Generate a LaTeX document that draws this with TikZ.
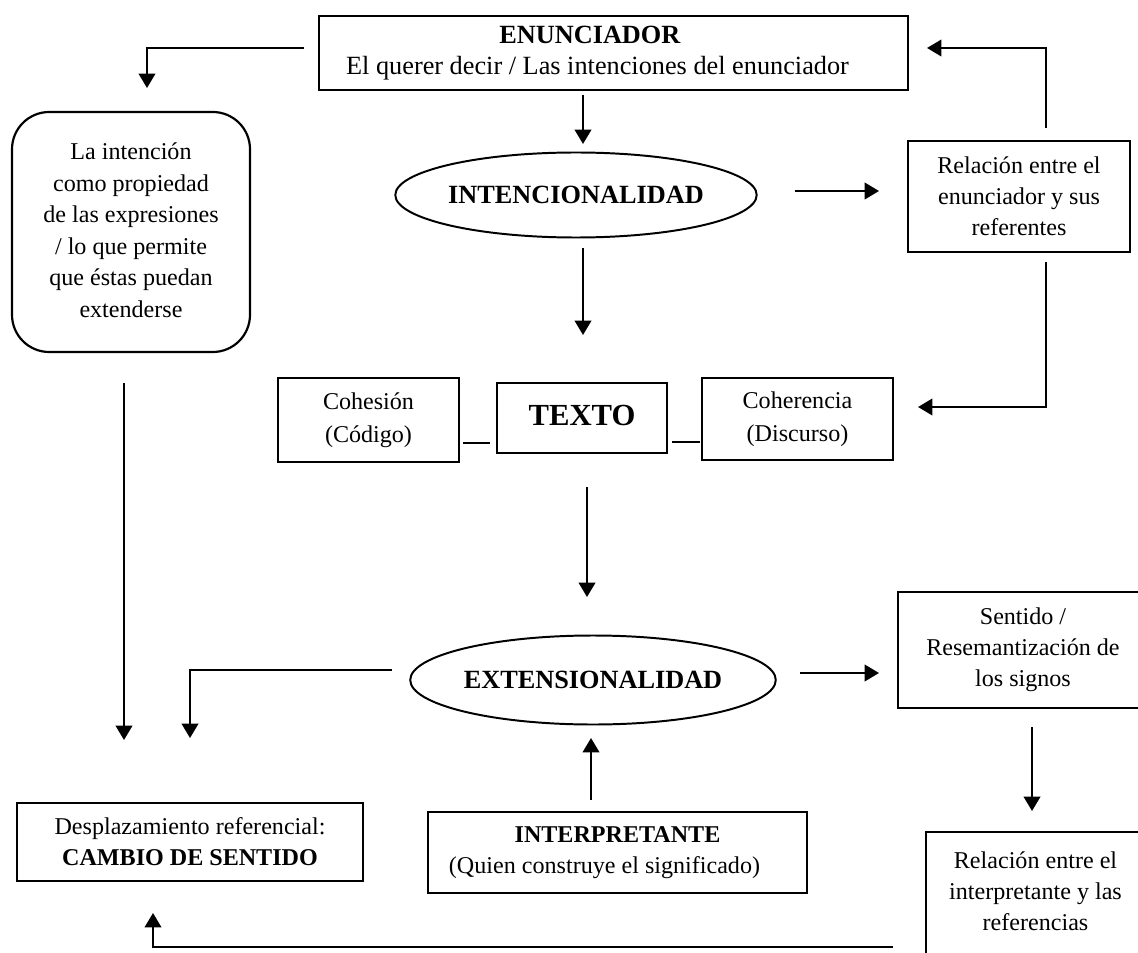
\documentclass[tikz,border=0pt]{standalone}
\usepackage{fontspec}
\setmainfont{Liberation Serif}
\usetikzlibrary{arrows.meta,shapes.geometric}
\newlength\pxu
\setlength\pxu{0.4566pt}
\newcommand\liftlines[2]{\raisebox{#1\pxu}{\begin{tabular}{@{}c@{}}#2\end{tabular}}}
\begin{document}
\begin{tikzpicture}[x=0.4566pt, y=-0.4566pt,
  box/.style={draw, line width=1pt, inner sep=0pt, outer sep=0pt, align=center,
    font=\fontsize{11}{14.2}\selectfont},
  ell/.style={draw, ellipse, line width=0.9pt, inner sep=0pt, outer sep=0pt,
    font=\fontsize{12}{14.4}\selectfont\bfseries},
  arr/.style={line width=1pt, -{Triangle[width=7.6pt,length=6.6pt]}},
  link/.style={line width=1pt}]
\useasboundingbox (0,0) rectangle (1138,952);
\clip (0,0) rectangle (1138,952);

% nodes
\node[box, minimum width=589*\pxu, minimum height=74*\pxu, font=\fontsize{12}{14.2}\selectfont] (enun) at (613.5,53)
  {\liftlines{-3}{\textbf{ENUNCIADOR}\rule{47\pxu}{0pt}\\El querer decir / Las intenciones del enunciador\rule{32\pxu}{0pt}}};
\node[ell, minimum width=322*\pxu, minimum height=85*\pxu] (intenc) at (576,195) {INTENCIONALIDAD};
\node[box, minimum width=222*\pxu, minimum height=111*\pxu] (rel1) at (1019,196.5) {Relación entre el\\enunciador y sus\\referentes};
\node[box, rounded corners=17pt, minimum width=238*\pxu, minimum height=240*\pxu, font=\fontsize{11}{14.4}\selectfont] (intbox) at (131,232)
  {\liftlines{5}{La intención\\como propiedad\\de las expresiones\\/ lo que permite\\que éstas puedan\\extenderse}};
\node[box, minimum width=181*\pxu, minimum height=84*\pxu, font=\fontsize{11}{15}\selectfont] (cohesion) at (368.5,420) {Cohesión\\(Código)};
\node[box, minimum width=170*\pxu, minimum height=70*\pxu, font=\fontsize{14}{16}\selectfont\bfseries] (texto) at (582,418) {\raisebox{5\pxu}{TEXTO}};
\node[box, minimum width=191*\pxu, minimum height=82*\pxu, font=\fontsize{11}{15}\selectfont] (coher) at (797.5,419) {Coherencia\\(Discurso)};
\node[ell, minimum width=332*\pxu, minimum height=89*\pxu] (extens) at (593,680) {EXTENSIONALIDAD};
\node[box, minimum width=250*\pxu, minimum height=116*\pxu] (sentido) at (1023,650) {Sentido /\\Resemantización de\\los signos};
\node[box, minimum width=219*\pxu, minimum height=122*\pxu] (rel2) at (1035.5,893)
  {\liftlines{5}{Relación entre el\\interpretante y las\\referencias}};
\node[box, minimum width=379*\pxu, minimum height=81*\pxu] (interp) at (617.5,852.5)
  {\textbf{INTERPRETANTE}\\(Quien construye el significado)\rule{26\pxu}{0pt}};
\node[box, minimum width=346*\pxu, minimum height=78*\pxu] (despl) at (190,842) {Desplazamiento referencial:\\\textbf{CAMBIO DE SENTIDO}};

% connectors
\draw[arr] ([xshift=-15*\pxu, yshift=5*\pxu]enun.west) -| ([xshift=16*\pxu, yshift=24*\pxu]intbox.north);
\draw[arr] ([xshift=-30.5*\pxu, yshift=-5*\pxu]enun.south) -- ([xshift=-30.5*\pxu, yshift=8.5*\pxu]intenc.north -| enun.south);
\draw[arr] ([xshift=7*\pxu, yshift=-10.5*\pxu]intenc.south) -- ([xshift=1*\pxu, yshift=48*\pxu]texto.north);
\draw[arr] ([xshift=38*\pxu, yshift=4*\pxu]intenc.east) -- ([xshift=-29*\pxu, yshift=5.5*\pxu]rel1.west);
\draw[arr] ([xshift=27*\pxu, yshift=13*\pxu]rel1.north) |- ([xshift=19*\pxu, yshift=5*\pxu]enun.east);
\draw[arr] ([xshift=27*\pxu, yshift=-10*\pxu]rel1.south) |- ([xshift=25*\pxu, yshift=12*\pxu]coher.east);
\draw[link] ([xshift=4*\pxu, yshift=-23*\pxu]cohesion.east) -- ([xshift=-7*\pxu, yshift=-25*\pxu]texto.west);
\draw[link] ([xshift=5*\pxu, yshift=-24*\pxu]texto.east) -- ([xshift=-2*\pxu, yshift=-23*\pxu]coher.west);
\draw[arr] ([xshift=5*\pxu, yshift=-34*\pxu]texto.south) -- ([xshift=-6*\pxu, yshift=38.5*\pxu]extens.north);
\draw[arr] ([xshift=-18*\pxu, yshift=10*\pxu]extens.west) -| ([yshift=65*\pxu]despl.north);
\draw[arr] ([xshift=-7*\pxu, yshift=-31*\pxu]intbox.south) -- ([xshift=-66*\pxu, yshift=63*\pxu]despl.north);
\draw[arr] ([xshift=24*\pxu, yshift=7*\pxu]extens.east) -- ([xshift=-19*\pxu, yshift=-23*\pxu]sentido.west);
\draw[arr] ([xshift=9*\pxu, yshift=-19*\pxu]sentido.south) -- ([xshift=-3.5*\pxu, yshift=21*\pxu]rel2.north);
\draw[arr] ([xshift=-26.5*\pxu, yshift=12*\pxu]interp.north) -- ([xshift=-2*\pxu, yshift=-13.5*\pxu]extens.south);
\draw[arr] ([xshift=-33*\pxu, yshift=-54*\pxu]rel2.west) -| ([xshift=-37*\pxu, yshift=-32*\pxu]despl.south);
\end{tikzpicture}
\end{document}
